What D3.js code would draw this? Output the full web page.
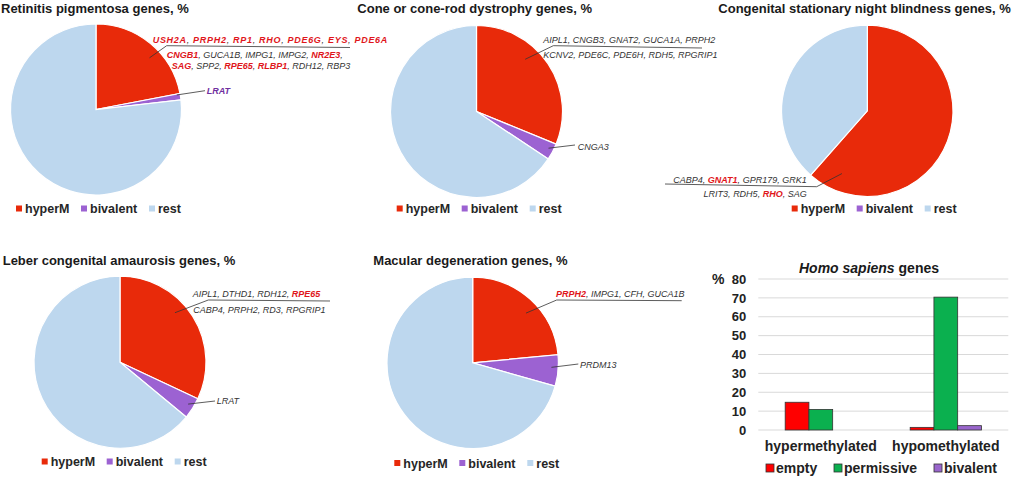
<!DOCTYPE html>
<html>
<head>
  <meta charset="utf-8">
  <title>Retinal disease genes</title>
  <script src="https://d3js.org/d3.v7.min.js"></script>
  <style>
    body { margin: 0; background: #fff; }
    svg { font-family: "Liberation Sans", Arial, sans-serif; }
    .title { font-size: 13px; font-weight: bold; fill: #1a1a1a; }
    .legend text { font-size: 12.5px; font-weight: bold; fill: #262626; }
    .genes { font-size: 9px; font-style: italic; fill: #333; }
    .genes .hi { font-weight: bold; fill: #e0161b; }
    .leader { fill: none; stroke: #333; stroke-width: 0.8; }
    .grid line { stroke: #d9d9d9; }
    .tick text { font-size: 13px; font-weight: bold; fill: #222; }
  </style>
</head>
<body>
  <script>
    // pie data, % of genes in each disease group
    var pieTitles = [
      "Retinitis pigmentosa genes, %",
      "Cone or cone-rod dystrophy genes, %",
      "Congenital stationary night blindness genes, %",
      "Leber congenital amaurosis genes, %",
      "Macular degeneration genes, %"
    ];
    var pieKeys = ["hyperM", "bivalent", "rest"];
    var hyperM   = [22.0, 31.2, 61.5, 32.0, 23.5];
    var bivalent = [1.2, 3.1, 0, 4.0, 5.9];
    var rest     = [76.8, 65.7, 38.5, 64.0, 70.6];

    // gene names per label row, flag 1 = shown in red
    var hyperGenes = [
      [[["USH2A",1],["PRPH2",1],["RP1",1],["RHO",1],["PDE6G",1],["EYS",1],["PDE6A",1]],
       [["CNGB1",1],["GUCA1B",0],["IMPG1",0],["IMPG2",0],["NR2E3",1],["",0]],
       [["SAG",1],["SPP2",0],["RPE65",1],["RLBP1",1],["RDH12",0],["RBP3",0]]],
      [[["AIPL1",0],["CNGB3",0],["GNAT2",0],["GUCA1A",0],["PRPH2",0]],
       [["KCNV2",0],["PDE6C",0],["PDE6H",0],["RDH5",0],["RPGRIP1",0]]],
      [[["CABP4",0],["GNAT1",1],["GPR179",0],["GRK1",0]],
       [["LRIT3",0],["RDH5",0],["RHO",1],["SAG",0]]],
      [[["AIPL1",0],["DTHD1",0],["RDH12",0],["RPE65",1]],
       [["CABP4",0],["PRPH2",0],["RD3",0],["RPGRIP1",0]]],
      [[["PRPH2",1],["IMPG1",0],["CFH",0],["GUCA1B",0]]]
    ];
    var bivalentGenes = ["LRAT", "CNGA3", null, "LRAT", "PRDM13"];

    // bar chart data
    var barCategories = ["hypermethylated", "hypomethylated"];
    var barSeries = ["empty", "permissive", "bivalent"];
    var emptyVals      = [14.7, 1.4];
    var permissiveVals = [10.9, 70.4];
    var bivalentVals   = [0, 2.3];
    var barTicks = [0, 10, 20, 30, 40, 50, 60, 70, 80];

    var pieColor = d3.scaleOrdinal().domain(pieKeys).range(["#e82a0a", "#9c62d2", "#bdd7ee"]);
    var barColor = d3.scaleOrdinal().domain(barSeries).range(["#ff0000", "#0bb04f", "#9966cc"]);

    // panel layout (row: x, baseline, letter-spacing)
    var panels = [
      {cx: 96,    cy: 109.5, r: 85.5, tx: 1,     ty: 13,  lx: 16,    ly: 213,
       rows: [[152.7, 42.7, 0.7], [166.7, 58.3], [171.7, 69]], anchor: "start",
       lead: [46, 0.87, [[166.7, 45.7], [350, 47.5]]],
       biv: [206.7, 93.5, 79.8, 0.96, [205, 90.7]], bivStyle: "purple"},
      {cx: 476.5, cy: 111.5, r: 86,   tx: 357.3, ty: 13,  lx: 396.7, ly: 213,
       rows: [[543.3, 43.3], [543.3, 58.3]], anchor: "start",
       lead: [43, 0.83, [[553.3, 45.7], [702, 48]]],
       biv: [577.7, 150, 117, 0.94, [575, 145]]},
      {cx: 867.3, cy: 110.8, r: 85.7, tx: 718.3, ty: 13,  lx: 791.7, ly: 213,
       rows: [[806.7, 182.7], [806.7, 196.7]], anchor: "end",
       lead: [202, 0.79, [[816.7, 186.7], [665, 184]]]},
      {cx: 120,   cy: 362.2, r: 86,   tx: 2.7,   ty: 265, lx: 41.7,  ly: 466,
       rows: [[192.7, 297], [193.3, 313]], anchor: "start",
       lead: [48, 0.86, [[208.3, 300], [330, 301]]],
       biv: [216.7, 404, 121.6, 0.93, [215, 401]]},
      {cx: 472.7, cy: 362.8, r: 85.7, tx: 373.3, ty: 265, lx: 394.3, ly: 467.5,
       rows: [[556, 296.7]], anchor: "start",
       lead: [47, 0.85, [[556.7, 300], [681.7, 300.7]]],
       biv: [580, 368, 93.3, 0.92, [578.3, 364]]}
    ];
    var legendOffsets = [0, 65, 133];

    var svg = d3.select("body").append("svg")
        .attr("width", 1017)
        .attr("height", 479);

    var pie = d3.pie().sort(null).value(d => d.value);

    function polar(p, deg, frac) {
      var a = deg * Math.PI / 180;
      return [p.cx + Math.sin(a) * p.r * frac, p.cy - Math.cos(a) * p.r * frac];
    }

    panels.forEach(function(p, i) {
      var g = svg.append("g");
      var values = [
        {key: "hyperM", value: hyperM[i]},
        {key: "bivalent", value: bivalent[i]},
        {key: "rest", value: rest[i]}
      ];
      var arc = d3.arc().innerRadius(0).outerRadius(p.r);

      g.append("text")
          .attr("class", "title")
          .attr("x", p.tx)
          .attr("y", p.ty)
          .text(pieTitles[i]);

      g.append("g")
          .attr("transform", "translate(" + p.cx + "," + p.cy + ")")
        .selectAll("path")
        .data(pie(values).filter(d => d.data.value > 0))
        .enter().append("path")
          .attr("d", arc)
          .attr("fill", d => pieColor(d.data.key))
          .attr("stroke", "#fff")
          .attr("stroke-width", 1.2);

      // hyperM gene list with leader line
      var pts = [polar(p, p.lead[0], p.lead[1])].concat(p.lead[2]);
      g.append("path")
          .attr("class", "leader")
          .attr("d", d3.line()(pts));

      hyperGenes[i].forEach(function(row, j) {
        var t = g.append("text")
            .attr("class", "genes")
            .attr("x", p.rows[j][0])
            .attr("y", p.rows[j][1])
            .attr("text-anchor", p.anchor)
            .style("letter-spacing", p.rows[j][2] ? p.rows[j][2] + "px" : null);
        row.forEach(function(gene, k) {
          t.append("tspan")
              .attr("class", gene[1] ? "hi" : null)
              .text(gene[0]);
          if (k < row.length - 1) t.append("tspan").text(", ");
        });
      });

      if (p.biv) {
        g.append("path")
            .attr("class", "leader")
            .attr("d", d3.line()([polar(p, p.biv[2], p.biv[3]), p.biv[4]]));
        g.append("text")
            .attr("class", "genes")
            .attr("x", p.biv[0])
            .attr("y", p.biv[1])
            .style("font-weight", p.bivStyle ? "bold" : null)
            .style("fill", p.bivStyle ? "#7030a0" : null)
            .text(bivalentGenes[i]);
      }

      var leg = g.append("g")
          .attr("class", "legend")
          .attr("transform", "translate(" + p.lx + "," + p.ly + ")");
      var item = leg.selectAll("g")
          .data(pieKeys)
          .enter().append("g")
            .attr("transform", (d, k) => "translate(" + legendOffsets[k] + ",0)");
      item.append("rect")
          .attr("x", 0).attr("y", -7.5)
          .attr("width", 6).attr("height", 6)
          .attr("fill", d => pieColor(d));
      item.append("text")
          .attr("x", 9)
          .attr("y", 0)
          .text(d => d);
    });

    // ---- Homo sapiens bar chart ----
    var barData = barCategories.map((c, i) => ({
      category: c,
      values: [
        {key: "empty", value: emptyVals[i]},
        {key: "permissive", value: permissiveVals[i]},
        {key: "bivalent", value: bivalentVals[i]}
      ]
    }));

    var bx = {left: 758.3, right: 1008.3, top: 279, bottom: 430};

    var x0 = d3.scaleBand()
        .domain(barCategories)
        .range([bx.left, bx.right]);
    var gw = x0.bandwidth() * 0.57;
    var x1 = d3.scaleBand()
        .domain(barSeries)
        .range([(x0.bandwidth() - gw) / 2, (x0.bandwidth() + gw) / 2]);
    var y = d3.scaleLinear()
        .domain([0, 80])
        .range([bx.bottom, bx.top]);

    var bar = svg.append("g");

    bar.append("g")
        .attr("class", "grid")
      .selectAll("line")
      .data(barTicks)
      .enter().append("line")
        .attr("x1", bx.left).attr("x2", bx.right)
        .attr("y1", d => y(d)).attr("y2", d => y(d));

    bar.append("g")
        .attr("transform", "translate(" + (bx.left - 6) + ",0)")
        .call(d3.axisLeft(y).tickValues(barTicks).tickSize(0).tickPadding(6))
        .call(g => g.select(".domain").remove());

    bar.append("text")
        .attr("x", 712)
        .attr("y", y(80) + 5)
        .style("font-size", "14px")
        .style("font-weight", "bold")
        .style("fill", "#222")
        .text("%");

    var t = bar.append("text")
        .attr("x", 869)
        .attr("y", 272.5)
        .attr("text-anchor", "middle")
        .style("font-size", "14px")
        .style("font-weight", "bold")
        .style("fill", "#1a1a1a");
    t.append("tspan").style("font-style", "italic").text("Homo sapiens");
    t.append("tspan").text(" genes");

    var groups = bar.append("g")
      .selectAll("g")
      .data(barData)
      .enter().append("g")
        .attr("transform", d => "translate(" + x0(d.category) + ",0)");

    groups.selectAll("rect")
        .data(d => d.values.filter(v => v.value > 0))
        .enter().append("rect")
          .attr("x", d => x1(d.key))
          .attr("y", d => y(d.value))
          .attr("width", x1.bandwidth())
          .attr("height", d => y(0) - y(d.value))
          .attr("fill", d => barColor(d.key))
          .attr("stroke", "#333")
          .attr("stroke-width", 0.8);

    bar.append("g")
      .selectAll("text")
      .data(barCategories)
      .enter().append("text")
        .attr("x", d => x0(d) + x0.bandwidth() / 2)
        .attr("y", 451)
        .attr("text-anchor", "middle")
        .style("font-size", "14px")
        .style("font-weight", "bold")
        .style("fill", "#222")
        .text(d => d);

    var barLegX = [766, 834, 934];
    var bl = bar.append("g")
      .selectAll("g")
      .data(barSeries)
      .enter().append("g")
        .attr("transform", (d, i) => "translate(" + barLegX[i] + ",473)");
    bl.append("rect")
        .attr("x", 0).attr("y", -9)
        .attr("width", 8).attr("height", 8)
        .attr("fill", d => barColor(d))
        .attr("stroke", "#333")
        .attr("stroke-width", 0.8);
    bl.append("text")
        .attr("x", 10)
        .attr("y", 0)
        .style("font-size", "14px")
        .style("font-weight", "bold")
        .style("fill", "#222")
        .text(d => d);
  </script>
</body>
</html>
